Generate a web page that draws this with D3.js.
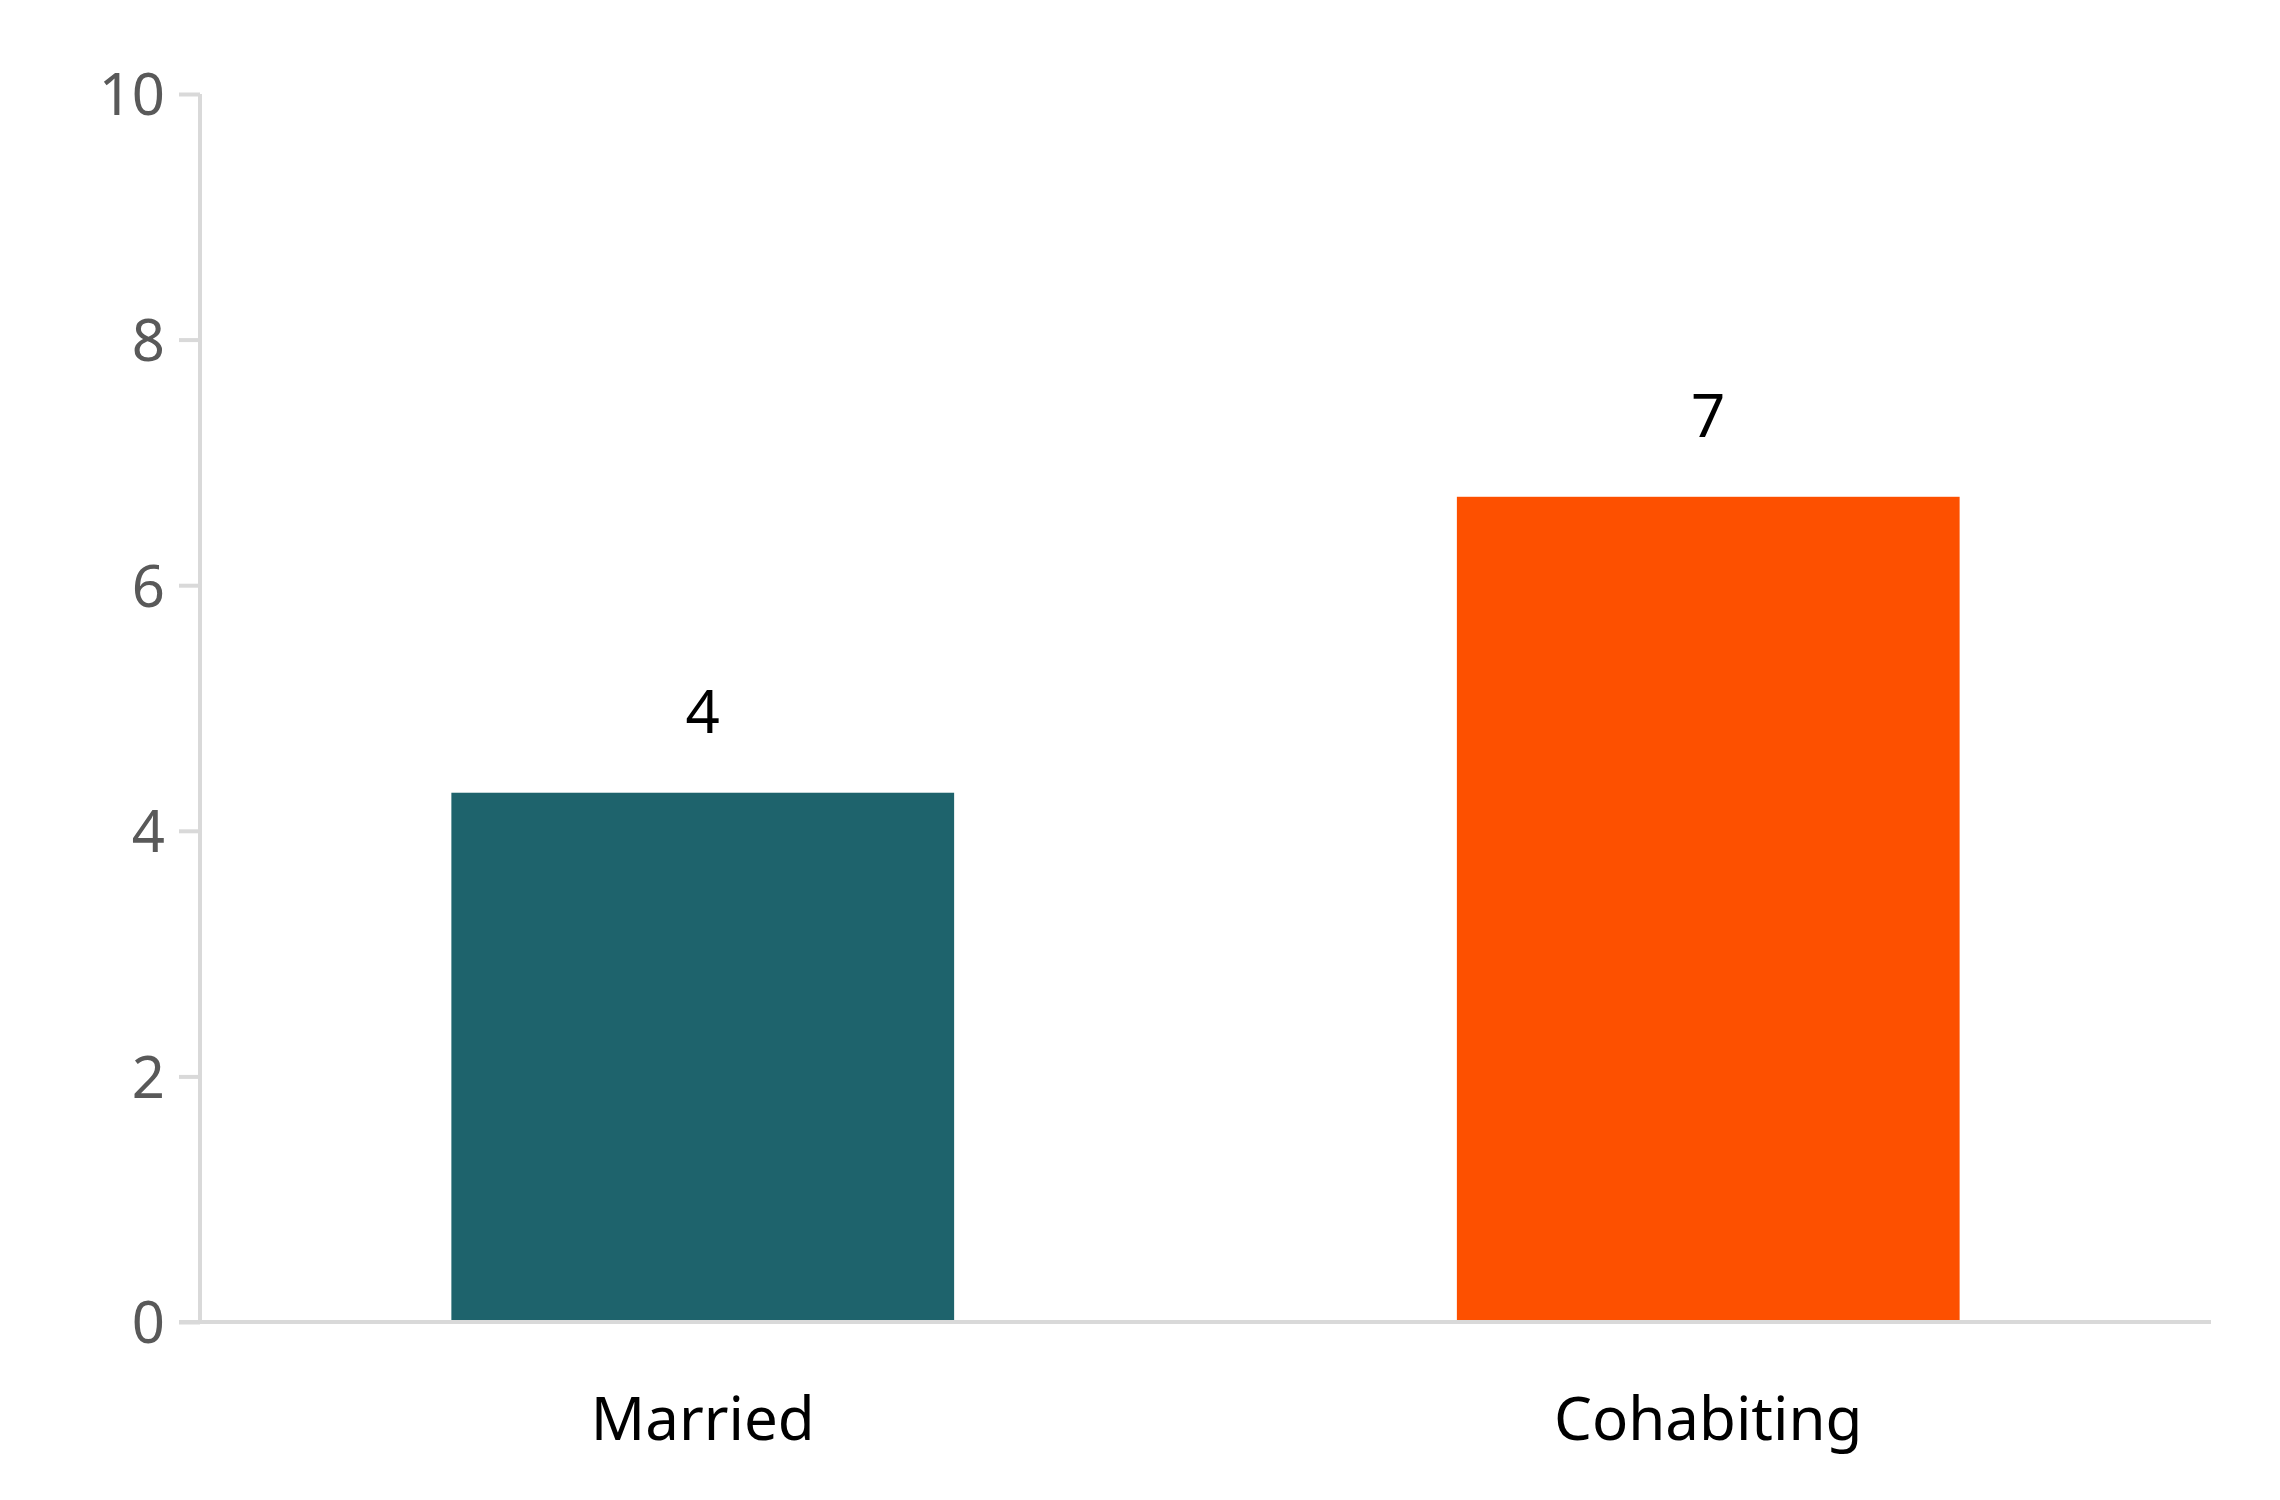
<!DOCTYPE html>
<html>
<head>
<meta charset="utf-8">
<script src="https://cdn.jsdelivr.net/npm/d3@7"></script>
<style>
  body { margin: 0; background: #fff; }
  text { font-family: "Noto Sans", "Open Sans", sans-serif; }
</style>
</head>
<body>
<svg id="chart" width="2280" height="1500"></svg>
<script>
var categories = ["Married", "Cohabiting"];
var values = [4.31, 6.72];
var valueLabels = ["4", "7"];
var colors = ["#1e636c", "#fd5000"];
var yTicks = [0, 2, 4, 6, 8, 10];

var svg = d3.select("#chart");
var plotLeft = 200, plotRight = 2211, plotTop = 94, plotBottom = 1322;

var x = d3.scaleBand().domain(categories).range([plotLeft, plotRight]).paddingInner(0.5).paddingOuter(0.25);
var y = d3.scaleLinear().domain([0, 10]).range([plotBottom, plotTop]);

// y axis
var yAxis = svg.append("g").attr("transform", "translate(" + plotLeft + ",0)")
  .call(d3.axisLeft(y).tickValues(yTicks).tickSize(21).tickPadding(14));
yAxis.select(".domain").remove();
yAxis.selectAll("line").attr("stroke", "#d9d9d9").attr("stroke-width", 4);
yAxis.selectAll("text").attr("fill", "#595959").style("font-size", "58px").attr("dy", "0.36em");
svg.append("line").attr("x1", plotLeft).attr("x2", plotLeft).attr("y1", plotTop).attr("y2", plotBottom)
  .attr("stroke", "#d9d9d9").attr("stroke-width", 4);

// bars
svg.selectAll(".bar").data(values).enter().append("rect")
  .attr("x", function (d, i) { return x(categories[i]); })
  .attr("width", x.bandwidth())
  .attr("y", function (d) { return y(d); })
  .attr("height", function (d) { return y(0) - y(d); })
  .attr("fill", function (d, i) { return colors[i]; });

// x axis line
svg.append("line").attr("x1", plotLeft - 21).attr("x2", plotRight).attr("y1", plotBottom).attr("y2", plotBottom)
  .attr("stroke", "#d9d9d9").attr("stroke-width", 4);

// value labels
svg.selectAll(".val").data(values).enter().append("text")
  .attr("x", function (d, i) { return x(categories[i]) + x.bandwidth() / 2; })
  .attr("y", function (d) { return y(d) - 60; })
  .attr("text-anchor", "middle").attr("fill", "#000").style("font-size", "60px")
  .text(function (d, i) { return valueLabels[i]; });

// category labels
svg.selectAll(".cat").data(categories).enter().append("text")
  .attr("x", function (d) { return x(d) + x.bandwidth() / 2; })
  .attr("y", 1440)
  .attr("text-anchor", "middle").attr("fill", "#000").style("font-size", "60px")
  .text(function (d) { return d; });
</script>
</body>
</html>
